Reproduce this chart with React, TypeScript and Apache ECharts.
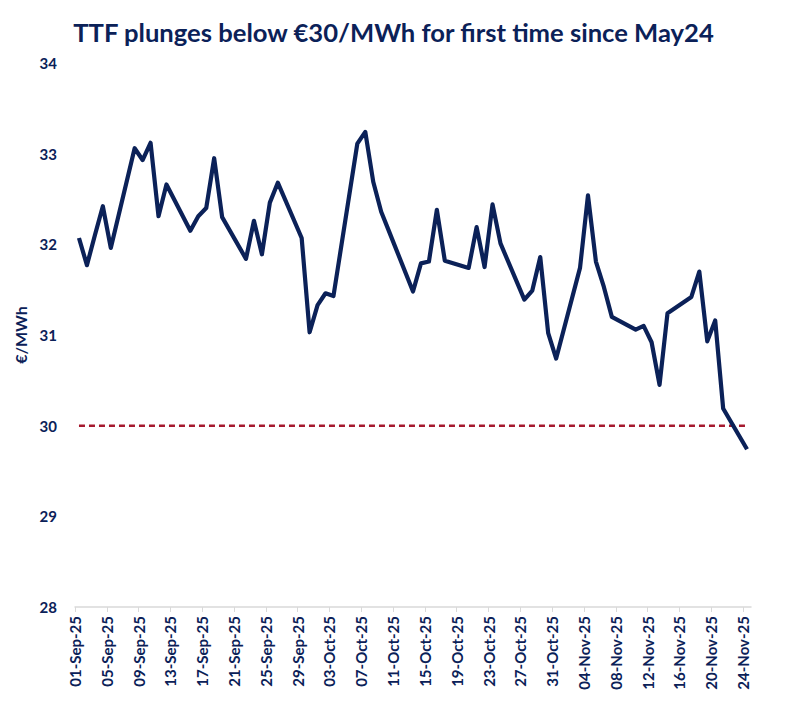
import React, { useEffect, useRef } from "react";
import * as echarts from "echarts";

// Day index counted from 01-Sep-25 (business days only)
const dayIndex = [
  0, 1, 2, 3, 4,
  7, 8, 9, 10, 11,
  14, 15, 16, 17, 18,
  21, 22, 23, 24, 25,
  28, 29, 30, 31, 32,
  35, 36, 37, 38, 39,
  42, 43, 44, 45, 46,
  49, 50, 51, 52, 53,
  56, 57, 58, 59, 60,
  63, 64, 65, 66, 67,
  70, 71, 72, 73, 74,
  77, 78, 79, 80, 81,
  84,
];

const ttfPrice = [
  32.07, 31.77, 32.1, 32.42, 31.96,
  33.06, 32.93, 33.12, 32.31, 32.66,
  32.15, 32.31, 32.4, 32.95, 32.3,
  31.84, 32.26, 31.89, 32.46, 32.68,
  32.07, 31.03, 31.33, 31.46, 31.43,
  33.11, 33.24, 32.69, 32.36, 32.14,
  31.48, 31.79, 31.81, 32.38, 31.82,
  31.74, 32.19, 31.75, 32.44, 32.01,
  31.39, 31.49, 31.86, 31.02, 30.74,
  31.74, 32.54, 31.81, 31.53, 31.2,
  31.06, 31.1, 30.92, 30.45, 31.24,
  31.42, 31.7, 30.93, 31.16, 30.19,
  29.74,
];

const threshold = 30;
const yTicks = [28, 29, 30, 31, 32, 33, 34];
const monthNames = ["Jan", "Feb", "Mar", "Apr", "May", "Jun", "Jul", "Aug", "Sep", "Oct", "Nov", "Dec"];
const startDate = Date.UTC(2025, 8, 1);
const title = "TTF plunges below €30/MWh for first time since May24";

function labelFor(day: number): string {
  const d = new Date(startDate + day * 86400000);
  const dd = String(d.getUTCDate()).padStart(2, "0");
  return `${dd}-${monthNames[d.getUTCMonth()]}-${String(d.getUTCFullYear()).slice(2)}`;
}

const NAVY = "#0B2158";

export default function App() {
  const ref = useRef<HTMLDivElement>(null);
  useEffect(() => {
    if (!ref.current) return;
    const chart = echarts.init(ref.current, null, { renderer: "svg" });
    const lineData = dayIndex.map((d, i) => [d + 0.5, ttfPrice[i]]);
    const first = dayIndex[0] + 0.5;
    const last = dayIndex[dayIndex.length - 1] + 0.5;
    chart.setOption({
      animation: false,
      textStyle: { fontFamily: "Lato" },
      title: {
        text: title,
        left: "center",
        top: 6,
        textStyle: { fontFamily: "Lato", fontWeight: "bold", fontSize: 25.6, color: NAVY },
      },
      grid: { left: 67, right: 28, top: 55, bottom: 90, containLabel: false, outerBoundsMode: "none" },
      xAxis: {
        type: "value",
        min: 0,
        max: 85,
        interval: 4,
        axisLine: { show: true, lineStyle: { color: "#D9D9D9", width: 1.5 } },
        axisTick: { show: true, length: 5, lineStyle: { color: "#D9D9D9" } },
        splitLine: { show: false },
        axisLabel: {
          rotate: 90,
          margin: 9,
          color: NAVY,
          fontWeight: "bold",
          fontSize: 15,
          fontFamily: "Lato",
          showMaxLabel: false,
          formatter: (v: number) => (v % 4 === 0 ? labelFor(v) : ""),
        },
      },
      yAxis: {
        type: "value",
        min: yTicks[0],
        max: yTicks[yTicks.length - 1],
        interval: 1,
        name: "€/MWh",
        nameLocation: "middle",
        nameGap: 47,
        nameRotate: 90,
        nameTextStyle: { color: NAVY, fontWeight: "bold", fontSize: 16, fontFamily: "Lato" },
        axisLine: { show: false },
        axisTick: { show: false },
        splitLine: { show: false },
        axisLabel: { color: NAVY, fontWeight: "bold", fontSize: 15, margin: 18, fontFamily: "Lato" },
      },
      series: [
        {
          type: "line",
          data: [[first, threshold], [last, threshold]],
          symbol: "none",
          lineStyle: { color: "#A6192E", width: 2.5, type: [6, 4] },
          z: 2,
        },
        {
          type: "line",
          data: lineData,
          symbol: "none",
          lineStyle: { color: NAVY, width: 4.2, join: "round" },
          z: 3,
        },
      ],
    });
    return () => chart.dispose();
  }, []);
  return <div ref={ref} style={{ width: 771, height: 689 }} />;
}
